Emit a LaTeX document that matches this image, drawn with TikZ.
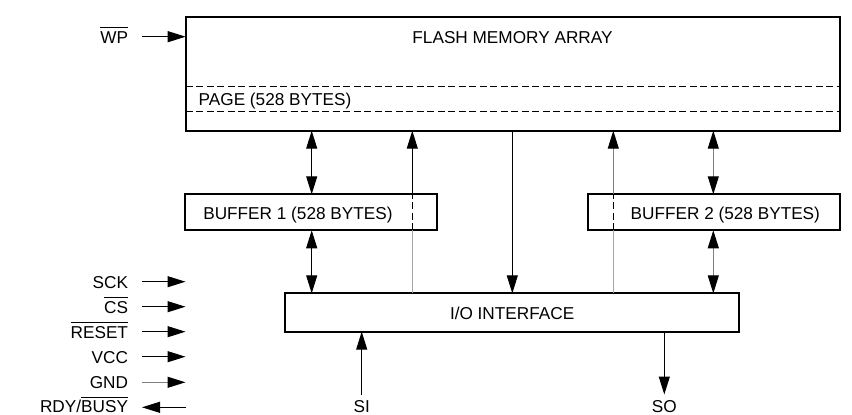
\documentclass[tikz,border=0pt]{standalone}
\usepackage{fontspec}
\setmainfont{Liberation Sans}
\usetikzlibrary{arrows.meta,calc}
\newcommand\ovl[1]{$\overline{\mbox{\vphantom{Ä}#1}}$}
\begin{document}
\begin{tikzpicture}[x=1pt,y=-1pt,
  every node/.style={font=\fontsize{17.2}{20}\selectfont, inner sep=0pt, outer sep=0pt},
  blk/.style={draw, line width=2.2pt, rectangle},
  txt/.style={anchor=base},
  conn/.style={line width=1pt},
  tip/.style={-{Triangle[length=18pt,width=11pt,color=black]}},
  dtip/.style={{Triangle[length=18pt,width=11pt,color=black]}-{Triangle[length=18pt,width=11pt,color=black]}},
  pale/.style={draw=black!35},
  mid/.style={draw=black!50},
  dsh/.style={line width=1pt, dash pattern=on 7pt off 3.5pt}
]
\useasboundingbox (0,0) rectangle (852,415);

% blocks
\node[blk, minimum width=654pt, minimum height=114pt] (flash) at (512.7,73.7) {};
\node[blk, minimum width=251.7pt, minimum height=36pt] (buf1) at (311.2,212.3) {};
\node[blk, minimum width=252.3pt, minimum height=36pt] (buf2) at (713.8,212.3) {};
\node[blk, minimum width=454pt, minimum height=38.3pt] (io) at (512.3,312.5) {};

% texts in blocks
\node[txt] (ftext) at (512.5,43.3) {FLASH MEMORY ARRAY};
\node[txt, anchor=base west] (ptext) at (198.7,105) {PAGE (528 BYTES)};
\node[txt, anchor=base west] (b1text) at (203.3,219.3) {BUFFER 1 (528 BYTES)};
\node[txt, anchor=base west] (b2text) at (630.7,219.3) {BUFFER 2 (528 BYTES)};
\node[txt, anchor=base west] (iotext) at (450,319.3) {I/O INTERFACE};

% page dashed lines
\draw[dsh] (flash.west |- 0,86) -- (flash.east |- 0,86);
\draw[dsh] (flash.west |- 0,111.3) -- (flash.east |- 0,111.3);

% double arrows
\draw[conn, dtip] (flash.south -| 311.7,0) -- (buf1.north -| 311.7,0);
\draw[conn, dtip] (buf1.south -| 311.7,0) -- (io.north -| 311.7,0);
\draw[conn, dtip, mid] (flash.south -| 713.3,0) -- (buf2.north -| 713.3,0);
\draw[conn, dtip, mid] (buf2.south -| 713.3,0) -- (io.north -| 713.3,0);

% io -> flash through buffer 1
\draw[conn, pale] (io.north -| 412.3,0) -- (buf1.south -| 412.3,0);
\draw[dsh] (buf1.south -| 412.3,0) -- (buf1.north -| 412.3,0);
\draw[conn, tip] (buf1.north -| 412.3,0) -- (flash.south -| 412.3,0);

% io -> flash through buffer 2
\draw[conn, pale] (io.north -| 613.3,0) -- (buf2.south -| 613.3,0);
\draw[dsh] (buf2.south -| 613.3,0) -- (buf2.north -| 613.3,0);
\draw[conn, tip, mid] (buf2.north -| 613.3,0) -- (flash.south -| 613.3,0);

% flash -> io
\draw[conn, tip] (flash.south -| 512.3,0) -- (io.north -| 512.3,0);

% WP
\node[txt, anchor=base east] (wp) at (128,43.3) {\ovl{WP}};
\draw[conn, tip] ($(wp.base east)+(14,-6.6)$) -- (flash.west |- 0,36.7);

% left signals
\node[txt, anchor=base east] (sck) at (128,288.3) {SCK};
\node[txt, anchor=base east] (cs) at (128,313.3) {\ovl{CS}};
\node[txt, anchor=base east] (rst) at (128,338.3) {\ovl{RESET}};
\node[txt, anchor=base east] (vcc) at (128,363.3) {VCC};
\node[txt, anchor=base east] (gnd) at (128,388.6) {GND};
\node[txt, anchor=base east] (rdy) at (128,412.6) {RDY/\ovl{BUSY}};
\coordinate (sckE) at (185.5,281.7);
\coordinate (csE) at (185.5,306.7);
\coordinate (rstE) at (185.5,331.7);
\coordinate (vccE) at (185.5,356.7);
\coordinate (gndE) at (185.5,382.3);
\coordinate (rdyE) at (185.5,407.3);
\draw[conn, tip] (sckE -| 142,0) -- (sckE);
\draw[conn, tip] (csE -| 142,0) -- (csE);
\draw[conn, tip] (rstE -| 142,0) -- (rstE);
\draw[conn, tip] (vccE -| 142,0) -- (vccE);
\draw[conn, tip, mid] (gndE -| 142,0) -- (gndE);
\draw[conn, tip] (rdyE) -- (rdyE -| 142,0);

% SI / SO
\node[txt] (si) at (361.7,412.5) {SI};
\node[txt] (so) at (664.3,412.5) {SO};
\draw[conn, tip] (si.north |- 0,395) -- (io.south -| si.north);
\draw[conn, tip] (io.south -| so.north) -- (so.north |- 0,394.5);
\end{tikzpicture}
\end{document}
